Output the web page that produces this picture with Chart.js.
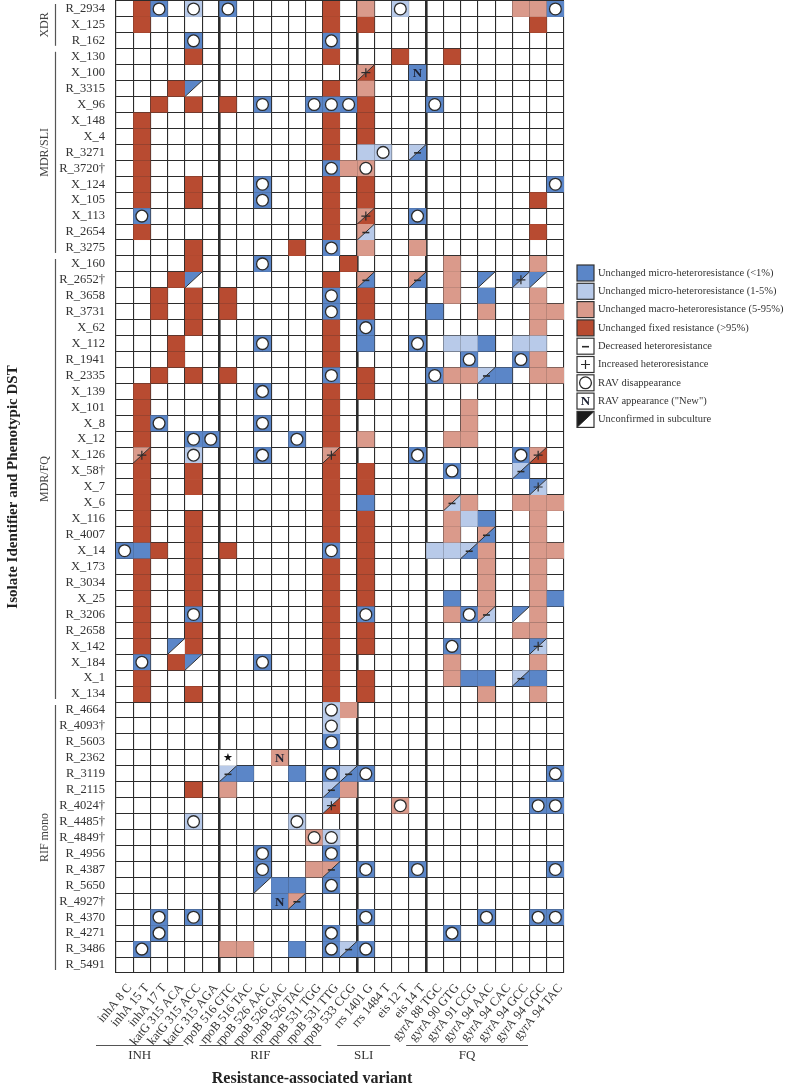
<!DOCTYPE html>
<html lang="en">
<head>
<meta charset="UTF-8">
<title>RAV heteroresistance by isolate</title>
<script src="https://cdn.jsdelivr.net/npm/chart.js"></script>
<style>
  html, body { margin: 0; padding: 0; background: #fff; }
  #wrap { width: 786px; height: 1090px; }
</style>
</head>
<body>
<div id="wrap"><canvas id="grid" width="786" height="1090"></canvas></div>
<script>
// columns: resistance-associated variants
const variants = [
  'inhA 8 C', 'inhA 15 T', 'inhA 17 T', 'katG 315 ACA', 'katG 315 ACC', 'katG 315 AGA',
  'rpoB 516 GTC', 'rpoB 516 TAC', 'rpoB 526 AAC', 'rpoB 526 GAC', 'rpoB 526 TAC', 'rpoB 531 TGG', 'rpoB 531 TTG', 'rpoB 533 CCG',
  'rrs 1401 G', 'rrs 1484 T', 'eis 12 T', 'eis 14 T',
  'gyrA 88 TGC', 'gyrA 90 GTG', 'gyrA 91 CCG', 'gyrA 94 AAC', 'gyrA 94 CAC', 'gyrA 94 GCC', 'gyrA 94 GGC', 'gyrA 94 TAC'
];
const drugNames = ['INH', 'RIF', 'SLI', 'FQ'];
const drugSpans = [[0, 5], [6, 13], [14, 17], [18, 25]];

// rows: isolates
const isolates = [
  'R_2934', 'X_125', 'R_162',
  'X_130', 'X_100', 'R_3315', 'X_96', 'X_148', 'X_4', 'R_3271', 'R_3720†', 'X_124', 'X_105', 'X_113', 'R_2654', 'R_3275',
  'X_160', 'R_2652†', 'R_3658', 'R_3731', 'X_62', 'X_112', 'R_1941', 'R_2335', 'X_139', 'X_101', 'X_8', 'X_12', 'X_126', 'X_58†',
  'X_7', 'X_6', 'X_116', 'R_4007', 'X_14', 'X_173', 'R_3034', 'X_25', 'R_3206', 'R_2658', 'X_142', 'X_184', 'X_1', 'X_134',
  'R_4664', 'R_4093†', 'R_5603', 'R_2362', 'R_3119', 'R_2115', 'R_4024†', 'R_4485†', 'R_4849†', 'R_4956', 'R_4387', 'R_5650',
  'R_4927†', 'R_4370', 'R_4271', 'R_3486', 'R_5491'
];
const cohortNames = ['XDR', 'MDR/SLI', 'MDR/FQ', 'RIF mono'];
const cohortSpans = [[0, 2], [3, 15], [16, 43], [44, 60]];

// cell codes: B <1%, L 1-5%, P 5-95%, R >95%, W none
// X/Y = before/after subculture, O disappearance, N new, + increased, - decreased, * star
const statusRows = [
  '. R BO . LO . | BO . . . . . R . | P . LO . | . . . . . P P BO',
  '. R . . . . | . . . . . . R . | R . . . | . . . . . . R .',
  '. . . . BO . | . . . . . . BO . | . . . . | . . . . . . . .',
  '. . . . R . | . . . . . . R . | . . R . | . R . . . . . .',
  '. . . . . . | . . . . . . . . | P/R+ . . BN | . . . . . . . .',
  '. . . R B/W . | . . . . . . R . | P . . . | . . . . . . . .',
  '. . R . R . | R . BO . . BO BO BO | R . . . | BO . . . . . . .',
  '. R . . . . | . . . . . . R . | R . . . | . . . . . . . .',
  '. R . . . . | . . . . . . R . | R . . . | . . . . . . . .',
  '. R . . . . | . . . . . . R . | L LO . L/B- | . . . . . . . .',
  '. R . . . . | . . . . . . BO P | PO . . . | . . . . . . . .',
  '. R . . R . | . . BO . . . R . | R . . . | . . . . . . . BO',
  '. R . . R . | . . BO . . . R . | R . . . | . . . . . . R .',
  '. BO . . . . | . . . . . . R . | P/R+ . . BO | . . . . . . . .',
  '. R . . . . | . . . . . . R . | P/L- . . . | . . . . . . R .',
  '. . . . R . | . . . . R . BO . | P . . P | . . . . . . . .',
  '. . . . R . | . . BO . . . . R | . . . . | . P . . . . P .',
  '. . . R B/W . | . . . . . . R . | P/B- . . P/B- | . P . B/W . B/L+ B/W .',
  '. . R . R . | R . . . . . BO . | R . . . | . P . B . . P .',
  '. . R . R . | R . . . . . BO . | R . . . | B . . P . . P P',
  '. . . . R . | . . . . . . R . | BO . . . | . . . . . . P .',
  '. . . R . . | . . BO . . . R . | B . . BO | . L L B . L L .',
  '. . . R . . | . . . . . . R . | . . . . | . . BO . . BO P .',
  '. . R . R . | R . . . . . BO . | R . . . | BO P P L/B- B . P P',
  '. R . . . . | . . BO . . . R . | R . . . | . . . . . . . .',
  '. R . . . . | . . . . . . R . | . . . . | . . P . . . . .',
  '. R BO . . . | . . BO . . . R . | . . . . | . . P . . . . .',
  '. R . . BO BO | . . . . BO . R . | P . . . | . P P . . . . .',
  '. P/R+ . . LO . | . . BO . . . P/R+ . | . . . BO | . . . . . BO P/R+ .',
  '. R . . R . | . . . . . . R . | R . . . | . BO . . . L/B- . .',
  '. R . . R . | . . . . . . R . | R . . . | . . . . . . B/L+ .',
  '. R . . . . | . . . . . . R . | B . . . | . P/L- P . . P P P',
  '. R . . R . | . . . . . . R . | R . . . | . P L B . . P .',
  '. R . . R . | . . . . . . R . | R . . . | . P . P/B- . . P .',
  'BO B R . R . | R . . . . . BO . | R . . . | L L L/B- P . . P P',
  '. R . . R . | . . . . . . R . | R . . . | . . . P . . P .',
  '. R . . R . | . . . . . . R . | R . . . | . . . P . . P .',
  '. R . . R . | . . . . . . R . | R . . . | . B . P . . P B',
  '. R . . BO . | . . . . . . R . | BO . . . | . P BO P/L- . B/W P .',
  '. R . . R . | . . . . . . R . | R . . . | . . . . . P P .',
  '. R . B/W R . | . . . . . . R . | R . . . | . BO . . . . B/L+ .',
  '. BO . R B/W . | . . BO . . . R . | . . . . | . P . . . . P .',
  '. R . . . . | . . . . . . R . | R . . . | . P B B . L/B- B .',
  '. R . . R . | . . . . . . R . | R . . . | . . . P . . P .',
  '. . . . . . | . . . . . . LO P | . . . . | . . . . . . . .',
  '. . . . . . | . . . . . . LO . | . . . . | . . . . . . . .',
  '. . . . . . | . . . . . . BO . | . . . . | . . . . . . . .',
  '. . . . . . | * . . PN . . . . | . . . . | . . . . . . . .',
  '. . . . . . | L/B- B . . B . BO L/B- | BO . . . | . . . . . . . BO',
  '. . . . R . | P . . . . . L/B- P | . . . . | . . . . . . . .',
  '. . . . . . | . . . . . . L/R+ . | . . PO . | . . . . . . BO BO',
  '. . . . LO . | . . . . LO . . . | . . . . | . . . . . . . .',
  '. . . . . . | . . . . . PO LO . | . . . . | . . . . . . . .',
  '. . . . . . | . . BO . . . BO . | . . . . | . . . . . . . .',
  '. . . . . . | . . BO . . P P/B- . | BO . . BO | . . . . . . . BO',
  '. . . . . . | . . B/W B B . BO . | . . . . | . . . . . . . .',
  '. . . . . . | . . . BN P/B- . . . | . . . . | . . . . . . . .',
  '. . BO . BO . | . . . . . . . . | BO . . . | . . . BO . . BO BO',
  '. . BO . . . | . . . . . . BO . | . . . . | . BO . . . . . .',
  '. BO . . . . | P P . . B . BO L/B- | BO . . . | . . . . . . . .',
  '. . . . . . | . . . . . . . . | . . . . | . . . . . . . .'
];

const legendLabels = [
  'Unchanged micro-heteroresistance (<1%)',
  'Unchanged micro-heteroresistance (1-5%)',
  'Unchanged macro-heteroresistance (5-95%)',
  'Unchanged fixed resistance (>95%)',
  'Decreased heteroresistance',
  'Increased heteroresistance',
  'RAV disappearance',
  'RAV appearance ("New")',
  'Unconfirmed in subculture'
];
const legendCodes = ['B', 'L', 'P', 'R', 'W-', 'W+', 'WO', 'WN', 'K/W'];

const fills = { B: '#5b86c8', L: '#b8cae9', P: '#da9a8b', R: '#b84b31', W: '#ffffff', K: '#1b1b1b' };
const serif = "'Liberation Serif', 'DejaVu Serif', serif";
const ink = '#2b2b2b';

function parseCode(tok) {
  if (tok === '*') return { a: 'W', b: null, mark: '*' };
  if (tok[1] === '/') return { a: tok[0], b: tok[2], mark: tok[3] || '' };
  return { a: tok[0], b: null, mark: tok[1] || '' };
}

const cells = [];
statusRows.forEach((row, r) => {
  row.split(/\s+/).filter(t => t !== '|').forEach((tok, c) => {
    if (tok !== '.') cells.push({ x: variants[c], y: isolates[r], code: tok });
  });
});

function drawCell(ctx, cx, cy, w, h, code) {
  const d = parseCode(code);
  const l = cx - w / 2, t = cy - h / 2, r = cx + w / 2, b = cy + h / 2;
  ctx.save();
  if (d.b) {
    ctx.fillStyle = fills[d.a];
    ctx.beginPath(); ctx.moveTo(l, t); ctx.lineTo(r, t); ctx.lineTo(l, b); ctx.closePath(); ctx.fill();
    ctx.fillStyle = fills[d.b];
    ctx.beginPath(); ctx.moveTo(r, t); ctx.lineTo(r, b); ctx.lineTo(l, b); ctx.closePath(); ctx.fill();
    ctx.strokeStyle = ink; ctx.lineWidth = 1;
    ctx.beginPath(); ctx.moveTo(l, b); ctx.lineTo(r, t); ctx.stroke();
  } else {
    ctx.fillStyle = fills[d.a];
    ctx.fillRect(l, t, w, h);
  }
  ctx.strokeStyle = ink;
  ctx.fillStyle = ink;
  if (d.mark === 'O') {
    ctx.beginPath();
    ctx.arc(cx, cy, Math.min(w, h) * 0.37, 0, Math.PI * 2);
    ctx.fillStyle = '#fff'; ctx.fill();
    ctx.lineWidth = 1.3; ctx.stroke();
  } else if (d.mark === '+') {
    ctx.lineWidth = 1.2;
    ctx.beginPath();
    ctx.moveTo(cx - 4.5, cy); ctx.lineTo(cx + 4.5, cy);
    ctx.moveTo(cx, cy - 4.5); ctx.lineTo(cx, cy + 4.5);
    ctx.stroke();
  } else if (d.mark === '-') {
    ctx.lineWidth = 1.6;
    ctx.beginPath(); ctx.moveTo(cx - 3.5, cy + 0.5); ctx.lineTo(cx + 3.5, cy + 0.5); ctx.stroke();
  } else if (d.mark === 'N') {
    ctx.font = 'bold 13px ' + serif;
    ctx.fillStyle = '#1d2233';
    ctx.textAlign = 'center'; ctx.textBaseline = 'middle';
    ctx.fillText('N', cx, cy + 1);
  } else if (d.mark === '*') {
    ctx.font = "11px 'DejaVu Sans', sans-serif";
    ctx.fillStyle = '#111';
    ctx.textAlign = 'center'; ctx.textBaseline = 'middle';
    ctx.fillText('★', cx, cy);
  }
  ctx.restore();
}

const cellPlugin = {
  id: 'cells',
  afterDatasetsDraw(chart) {
    const { ctx, scales: { x, y } } = chart;
    const w = x.width / variants.length, h = y.height / isolates.length;
    const meta = chart.getDatasetMeta(0);
    meta.data.forEach((pt, i) => {
      drawCell(ctx, pt.x, pt.y, w, h, chart.data.datasets[0].data[i].code);
    });
  }
};

const decorPlugin = {
  id: 'decor',
  afterDraw(chart) {
    const { ctx, scales: { x, y }, chartArea } = chart;
    const w = x.width / variants.length, h = y.height / isolates.length;
    ctx.save();

    // cohort brackets on the left
    ctx.strokeStyle = '#555'; ctx.lineWidth = 1.2;
    ctx.fillStyle = '#444';
    ctx.font = '12px ' + serif;
    ctx.textAlign = 'center'; ctx.textBaseline = 'middle';
    cohortSpans.forEach(([a, b], i) => {
      const top = y.getPixelForValue(a) - h / 2 + 3;
      const bot = y.getPixelForValue(b) + h / 2 - 3;
      ctx.beginPath(); ctx.moveTo(55.5, top); ctx.lineTo(55.5, bot); ctx.stroke();
      ctx.save();
      ctx.translate(45, (top + bot) / 2);
      ctx.rotate(-Math.PI / 2);
      ctx.fillText(cohortNames[i], 0, 0);
      ctx.restore();
    });

    // y title
    ctx.save();
    ctx.fillStyle = '#222';
    ctx.font = 'bold 15px ' + serif;
    ctx.translate(13, (chartArea.top + chartArea.bottom) / 2);
    ctx.rotate(-Math.PI / 2);
    ctx.fillText('Isolate Identifier and Phenotypic DST', 0, 0);
    ctx.restore();

    // drug brackets under the rotated labels
    const lineY = 1045.5;
    let spanL = Infinity, spanR = -Infinity;
    ctx.font = '13px ' + serif;
    ctx.fillStyle = '#333';
    drugSpans.forEach(([a, b], i) => {
      const x0 = x.getPixelForValue(a) - w / 2 - 20;
      const x1 = x.getPixelForValue(b) + w / 2 - 36;
      spanL = Math.min(spanL, x0); spanR = Math.max(spanR, x1);
      ctx.beginPath(); ctx.moveTo(x0, lineY); ctx.lineTo(x1, lineY); ctx.stroke();
      ctx.fillText(drugNames[i], (x0 + x1) / 2, lineY + 10);
    });

    // x title
    ctx.fillStyle = '#222';
    ctx.font = 'bold 16px ' + serif;
    ctx.fillText('Resistance-associated variant', (spanL + spanR) / 2, 1079);

    // legend
    const lx = chartArea.right + 13, ly = 265, sw = 17, sh = 16, step = 18.3;
    legendCodes.forEach((code, i) => {
      const top = ly + i * step;
      const cx = lx + sw / 2, cy = top + sh / 2;
      drawCell(ctx, cx, cy, sw, sh, code);
      ctx.strokeStyle = '#333'; ctx.lineWidth = 1.2;
      ctx.strokeRect(lx, top, sw, sh);
      ctx.fillStyle = '#333';
      ctx.font = '10.5px ' + serif;
      ctx.textAlign = 'left'; ctx.textBaseline = 'middle';
      ctx.fillText(legendLabels[i], lx + sw + 4, cy);
    });
    ctx.restore();
  }
};

const thickLines = drugSpans.slice(1).map(s => s[0]);

new Chart(document.getElementById('grid'), {
  type: 'scatter',
  data: {
    datasets: [{
      data: cells,
      pointRadius: 0,
      pointHoverRadius: 0
    }]
  },
  options: {
    responsive: false,
    animation: false,
    events: [],
    layout: { padding: { left: 0, right: 222, top: 1, bottom: 0 } },
    plugins: { legend: { display: false }, tooltip: { enabled: false } },
    scales: {
      x: {
        type: 'category',
        labels: variants,
        position: 'bottom',
        offset: true,
        z: 1,
        grid: {
          offset: true,
          drawTicks: false,
          color: ink,
          lineWidth: ctx => thickLines.includes(ctx.index) ? 2.6 : 1.1
        },
        border: { display: true, color: ink, width: 1.1 },
        ticks: {
          autoSkip: false,
          minRotation: 50,
          maxRotation: 50,
          padding: 8,
          labelOffset: 5,
          color: '#333',
          font: { family: serif, size: 12.5 }
        },
        afterFit(scale) {
          scale.height = 117;
          scale.paddingLeft = 0;
          scale.paddingRight = 0;
        }
      },
      y: {
        type: 'category',
        labels: isolates,
        offset: true,
        z: 1,
        grid: {
          offset: true,
          drawTicks: false,
          color: ink,
          lineWidth: 1.1
        },
        border: { display: true, color: ink, width: 1.1 },
        ticks: {
          autoSkip: false,
          padding: 11,
          color: '#333',
          font: { family: serif, size: 12.5 }
        },
        afterFit(scale) {
          scale.width = 116;
          scale.paddingTop = 0;
          scale.paddingBottom = 0;
        }
      }
    }
  },
  plugins: [cellPlugin, decorPlugin]
});
</script>
</body>
</html>
